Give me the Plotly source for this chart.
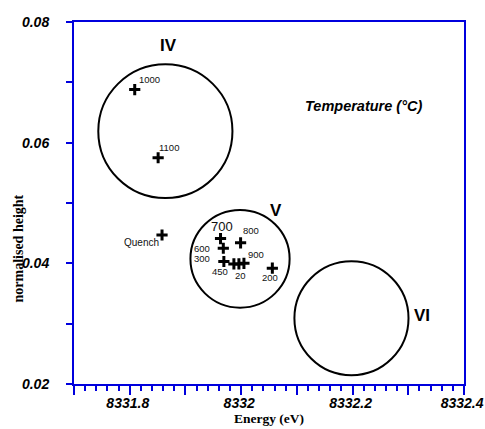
import plotly.graph_objects as go

# ---- data ----
temps = ["1000", "1100", "Quench", "700", "600", "800", "300", "450", "20", "900", "200"]
energy = [8331.809, 8331.851, 8331.858, 8331.963, 8331.968, 8331.999,
          8331.969, 8331.987, 8331.996, 8332.005, 8332.056]
height = [0.0688, 0.0575, 0.0447, 0.0441, 0.0425, 0.0434,
          0.0403, 0.0399, 0.0399, 0.0400, 0.0392]

group_names = ["IV", "V", "VI"]
group_cx = [8331.864, 8331.998, 8332.198]
group_cy = [0.0619, 0.04075, 0.0309]
group_rx = [0.1204, 0.089, 0.1024]
group_ry = [0.01109, 0.0081, 0.00944]

x_tickvals = [8331.7, 8331.8, 8331.9, 8332.0, 8332.1, 8332.2, 8332.3, 8332.4]
x_ticktext = ["", "8331.8", "", "8332", "", "8332.2", "", "8332.4"]
y_tickvals = [0.02, 0.03, 0.04, 0.05, 0.06, 0.07, 0.08]
y_ticktext = ["0.02", "", "0.04", "", "0.06", "", "0.08"]

# ---- label styling (pixel offsets, anchors, sizes) ----
label_style = {
    "1000":   dict(xanchor="left",   xshift=2,   yshift=10, size=9.5),
    "1100":   dict(xanchor="left",   xshift=-1,  yshift=10, size=9.5),
    "Quench": dict(xanchor="right",  xshift=-1,  yshift=-8, size=10),
    "700":    dict(xanchor="center", xshift=1,   yshift=12, size=13),
    "600":    dict(xanchor="right",  xshift=-11, yshift=0,  size=9.5),
    "800":    dict(xanchor="left",   xshift=0,   yshift=12, size=9.5),
    "300":    dict(xanchor="right",  xshift=-12, yshift=3,  size=9.5),
    "450":    dict(xanchor="center", xshift=-14, yshift=-8, size=9.5),
    "20":     dict(xanchor="center", xshift=2,   yshift=-12, size=9.5),
    "900":    dict(xanchor="left",   xshift=2,   yshift=9,  size=9.5),
    "200":    dict(xanchor="center", xshift=-2,  yshift=-9, size=9.5),
}
roman_pos = {"IV": (8331.869, 0.0761), "V": (8332.063, 0.0488), "VI": (8332.324, 0.0314)}

BLUE = "#0000dd"
SANS = "Liberation Sans, Arial, sans-serif"
SERIF = "Liberation Serif, Times New Roman, serif"
NBSP = "\u00a0"  # trailing pad nudges the italic x labels slightly left, as in the original

fig = go.Figure()
fig.add_trace(go.Scatter(
    x=energy, y=height, mode="markers",
    marker=dict(symbol="cross-thin", size=8, line=dict(width=3, color="black"), color="black"),
    hoverinfo="skip", showlegend=False,
))

for name, cx, cy, rx, ry in zip(group_names, group_cx, group_cy, group_rx, group_ry):
    fig.add_shape(type="circle", xref="x", yref="y",
                  x0=cx - rx, x1=cx + rx, y0=cy - ry, y1=cy + ry,
                  line=dict(color="black", width=2))
    px, py = roman_pos[name]
    fig.add_annotation(x=px, y=py, xref="x", yref="y", text=name, showarrow=False,
                       font=dict(family=SANS, size=17, color="black", weight="bold"))

for t, xv, yv in zip(temps, energy, height):
    s = label_style[t]
    fig.add_annotation(x=xv, y=yv, xref="x", yref="y", text=t, showarrow=False,
                       xanchor=s["xanchor"], yanchor="middle",
                       xshift=s["xshift"], yshift=s["yshift"],
                       font=dict(family=SANS, size=s["size"], color="#111"))

fig.add_annotation(x=8332.219, y=0.0660, xref="x", yref="y", text="Temperature (°C)",
                   showarrow=False,
                   font=dict(family=SANS, size=14.5, color="black", weight="bold", style="italic"))

# y-axis title sits below the axis centre in the original, so place it as a rotated text
fig.add_annotation(x=-0.143, y=0.375, xref="paper", yref="paper", text="normalised height",
                   textangle=-90, showarrow=False, xanchor="center", yanchor="middle",
                   font=dict(family=SERIF, size=14, color="black", weight="bold"))

fig.update_layout(
    width=485, height=429,
    margin=dict(l=74, r=21, t=22, b=45),
    plot_bgcolor="white", paper_bgcolor="white",
    xaxis=dict(
        range=[8331.7, 8332.4], showgrid=False, zeroline=False, automargin=False,
        showline=True, linecolor=BLUE, linewidth=2, mirror=True,
        tickmode="array", tickvals=x_tickvals,
        ticktext=[t + NBSP if t else t for t in x_ticktext],
        ticks="outside", ticklen=9, tickwidth=2, tickcolor=BLUE,
        ticklabelstandoff=-4, ticklabeloverflow="allow",
        minor=dict(dtick=0.02, tick0=8331.7, ticks="outside", ticklen=5, tickwidth=2, tickcolor=BLUE),
        tickfont=dict(family=SANS, size=14, color="black", weight="bold", style="italic"),
        title=dict(text="Energy (eV)", standoff=0,
                   font=dict(family=SERIF, size=13.5, color="black", weight="bold")),
    ),
    yaxis=dict(
        range=[0.02, 0.08], showgrid=False, zeroline=False, automargin=False,
        showline=True, linecolor=BLUE, linewidth=2, mirror=True,
        tickmode="array", tickvals=y_tickvals, ticktext=y_ticktext,
        ticks="outside", ticklen=6, tickwidth=2, tickcolor=BLUE,
        ticklabelstandoff=14, ticklabeloverflow="allow",
        tickfont=dict(family=SANS, size=14, color="black", weight="bold", style="italic"),
    ),
)

# remove the browser's default 8px page margin so the figure fills the window exactly
fig.write_html("out.html", config={"displayModeBar": False},
               post_script="document.body.style.margin='0';document.body.style.overflow='hidden';")
